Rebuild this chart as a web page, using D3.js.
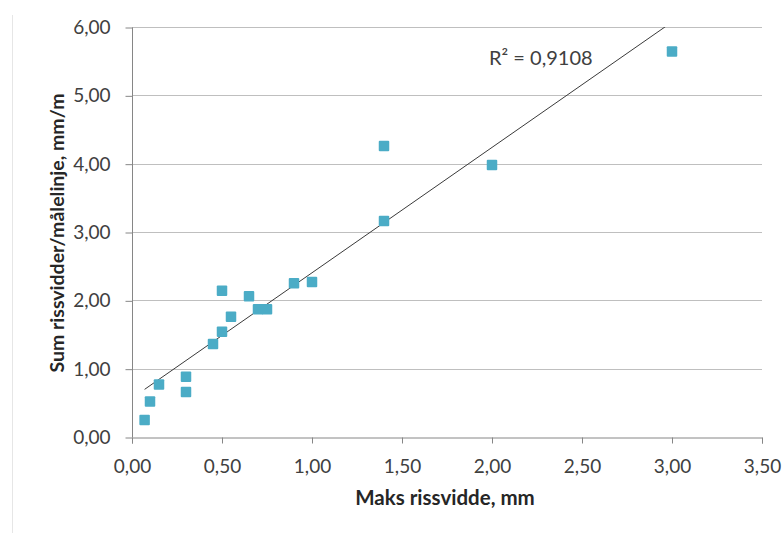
<!DOCTYPE html>
<html>
<head>
<meta charset="utf-8">
<script src="https://cdn.jsdelivr.net/npm/d3@7"></script>
<style>
  body { margin: 0; background: #fff; }
  text { font-family: Lato, "Open Sans", sans-serif; fill: #404040; }
</style>
</head>
<body>
<svg width="784" height="533"></svg>
<script>
// Maks rissvidde (mm) vs sum rissvidder per målelinje (mm/m)
var maksRissvidde = [0.07, 0.10, 0.15, 0.30, 0.30, 0.45, 0.50, 0.50, 0.55, 0.65, 0.70, 0.75, 0.90, 1.00, 1.40, 1.40, 2.00, 3.00];
var sumRissvidder = [0.25, 0.52, 0.77, 0.88, 0.66, 1.36, 1.54, 2.14, 1.76, 2.06, 1.87, 1.87, 2.25, 2.27, 4.26, 3.16, 3.98, 5.64];
var xTicks = [0, 0.5, 1, 1.5, 2, 2.5, 3, 3.5];
var yTicks = [0, 1, 2, 3, 4, 5, 6];
var rSquaredLabel = "R² = 0,9108";

var svg = d3.select("svg");

var x = d3.scaleLinear().domain([0, 3.5]).range([132, 762]);
var y = d3.scaleLinear().domain([0, 6]).range([437, 27]);

var fmt = function(d) { return d.toFixed(2).replace(".", ","); };

// faint border of the embedded picture
svg.append("line")
  .attr("x1", 12.5).attr("x2", 12.5)
  .attr("y1", 15).attr("y2", 533)
  .attr("stroke", "#e6e6e6");

// gridlines
svg.append("g")
  .selectAll("line")
  .data(yTicks.slice(1))
  .enter()
  .append("line")
  .attr("x1", x(0)).attr("x2", x(3.5))
  .attr("y1", function(d) { return Math.round(y(d)) + 0.5; })
  .attr("y2", function(d) { return Math.round(y(d)) + 0.5; })
  .attr("stroke", "#bfbfbf");

// y axis
var yAxis = svg.append("g")
  .attr("transform", "translate(" + (x(0) + 0.5) + ",0.5)")
  .call(d3.axisLeft(y).tickValues(yTicks).tickSize(7).tickPadding(15).tickFormat(fmt));

// x axis
var xAxis = svg.append("g")
  .attr("transform", "translate(0," + (Math.round(y(0)) + 0.5) + ")")
  .call(d3.axisBottom(x).tickValues(xTicks).tickSize(6).tickPadding(16).tickFormat(fmt));

[yAxis, xAxis].forEach(function(a) {
  a.select(".domain").attr("stroke", "#868686");
  a.selectAll(".tick line").attr("stroke", "#868686");
  a.selectAll(".tick text")
    .attr("fill", "#404040")
    .style("font-size", "19px")
    .style("font-family", "Lato, sans-serif");
});
yAxis.select(".domain").attr("d", "M0," + (y(6)) + "V" + y(0));

// trendline (least squares), clipped to plot area
svg.append("clipPath").attr("id", "plot")
  .append("rect")
  .attr("x", x(0)).attr("y", y(6))
  .attr("width", x(3.5) - x(0)).attr("height", y(0) - y(6));

var mx = d3.mean(maksRissvidde), my = d3.mean(sumRissvidder);
var sxy = d3.sum(maksRissvidde, function(v, i) { return (v - mx) * (sumRissvidder[i] - my); });
var sxx = d3.sum(maksRissvidde, function(v) { return (v - mx) * (v - mx); });
var slope = sxy / sxx, intercept = my - slope * mx;
var xExt = d3.extent(maksRissvidde);

svg.append("line")
  .attr("clip-path", "url(#plot)")
  .attr("x1", x(xExt[0])).attr("y1", y(intercept + slope * xExt[0]))
  .attr("x2", x(xExt[1])).attr("y2", y(intercept + slope * xExt[1]))
  .attr("stroke", "#3a3a3a")
  .attr("stroke-width", 1);

// points
var pts = d3.zip(maksRissvidde, sumRissvidder);
svg.append("g")
  .selectAll("rect")
  .data(pts)
  .enter()
  .append("rect")
  .attr("x", function(d) { return x(d[0]) - 5.25; })
  .attr("y", function(d) { return y(d[1]) - 5.25; })
  .attr("width", 10.5)
  .attr("height", 10.5)
  .attr("rx", 1)
  .attr("fill", "#4bacc6");

// R² label
svg.append("text")
  .attr("x", 489)
  .attr("y", 65)
  .style("font-size", "20px")
  .text(rSquaredLabel);

// axis titles
svg.append("text")
  .attr("x", 445)
  .attr("y", 505)
  .attr("text-anchor", "middle")
  .style("font-size", "20.5px")
  .style("font-weight", "bold")
  .style("fill", "#262626")
  .text("Maks rissvidde, mm");

svg.append("text")
  .attr("transform", "translate(64,233) rotate(-90)")
  .attr("text-anchor", "middle")
  .style("font-size", "19.5px")
  .style("font-weight", "bold")
  .style("fill", "#262626")
  .text("Sum rissvidder/målelinje, mm/m");
</script>
</body>
</html>
